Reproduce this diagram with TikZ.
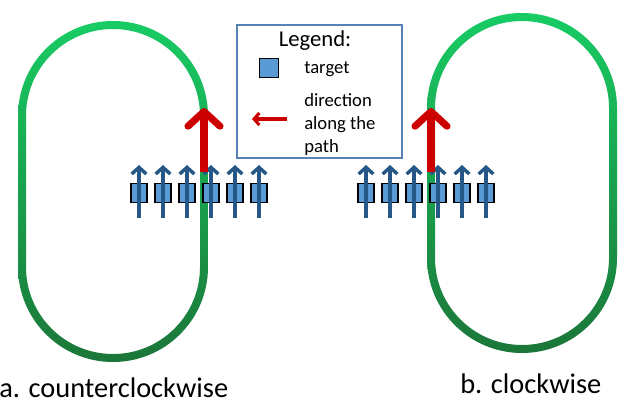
\documentclass[tikz,border=0pt]{standalone}
\usepackage{fontspec}
\setmainfont{Carlito}
\usetikzlibrary{arrows.meta,calc}

\definecolor{loopTop}{RGB}{24,204,100}
\definecolor{loopMid}{RGB}{26,178,84}
\definecolor{loopBot}{RGB}{27,118,56}
\definecolor{tgtBlue}{RGB}{91,155,213}
\definecolor{arrBlue}{RGB}{37,87,135}
\definecolor{dirRed}{RGB}{204,0,0}
\definecolor{legBlue}{RGB}{88,130,182}

% stadium outline: centre x, top arc centre y, bottom arc centre y, radius
\newcommand\trackpath[4]{({#1-#4},#3) -- ({#1-#4},#2) arc (180:360:#4)
  -- ({#1+#4},#3) arc (0:180:#4) -- cycle}

\tikzset{
  loopshade/.style={top color=loopTop,middle color=loopMid,bottom color=loopBot},
  target/.style={draw=black,line width=1.1pt,fill=tgtBlue,minimum width=12pt,minimum height=14pt,inner sep=0pt},
  tgtarrow/.style={draw=arrBlue,line width=2.6pt,-{Straight Barb[length=5pt,width=11pt]}},
  dirarrow/.style={draw=dirRed,line width=5.3pt,-{Straight Barb[length=11pt,width=24pt,round]}},
  legarrow/.style={draw=dirRed,line width=2.3pt,-{Straight Barb[length=4pt,width=9pt]}},
  legbox/.style={draw=legBlue,line width=1.1pt,minimum width=123.75pt,minimum height=99.75pt,inner sep=0pt},
  lbl/.style={font=\fontsize{21.3}{25}\selectfont,inner sep=0pt,anchor=base west},
  legtext/.style={font=\fontsize{14}{17}\selectfont,inner sep=0pt,anchor=base west}
}

\begin{document}
\begin{tikzpicture}[x=0.75pt,y=0.75pt,yscale=-1,xscale=1]
\useasboundingbox (0,0) rectangle (624,404);

%Shape: left loop (counterclockwise)
\begin{scope}[even odd rule]
\clip \trackpath{113}{116}{267}{95} \trackpath{113}{116}{267}{87};
\shade[loopshade] (18,21) rectangle (208,362);
\end{scope}
%Shape: right loop (clockwise)
\begin{scope}[even odd rule]
\clip \trackpath{522}{108}{258}{95} \trackpath{522}{108}{258}{87};
\shade[loopshade] (427,13) rectangle (617,353);
\end{scope}

% targets along the path
\foreach \x [count=\i] in {139,163,187,211,235,259} {
  \node[target] (ta\i) at (\x,193) {};
  \draw[tgtarrow] ($(ta\i)+(0,25)$) -- ($(ta\i)+(0,-28)$);
}
\foreach \x [count=\i] in {366,390,414,438,462,486} {
  \node[target] (tb\i) at (\x,193) {};
  \draw[tgtarrow] ($(tb\i)+(0,25)$) -- ($(tb\i)+(0,-28)$);
}

% direction arrows
\coordinate (ccwTail) at (204,172);
\coordinate (ccwTip) at (204,108);
\draw[dirarrow] (ccwTail) -- (ccwTip);
\coordinate (cwTail) at (431,172);
\coordinate (cwTip) at (431,108);
\draw[dirarrow] (cwTail) -- (cwTip);

% Legend
\node[legbox] (legend) at (319.5,91.5) {};
\node[font=\fontsize{17}{20}\selectfont,inner sep=0pt,anchor=base] (legtitle) at (315,46) {Legend:};
\node[target,minimum width=14.5pt,minimum height=14.5pt] (legsq) at (269,68) {};
\node[legtext] (legtgt) at (304,73) {target};
\node[legtext] (legdir1) at (304,106) {direction};
\node[legtext] (legdir2) at (304,129) {along the};
\node[legtext] (legdir3) at (304,152) {path};
\coordinate (legTail) at (287,119);
\coordinate (legTip) at (252,119);
\draw[legarrow] (legTail) -- (legTip);

% Text Node
\node[lbl] (lblccw) at (-1,397) {a. counterclockwise};
% Text Node
\node[lbl] (lblcw) at (460,393) {b. clockwise};
\end{tikzpicture}
\end{document}
